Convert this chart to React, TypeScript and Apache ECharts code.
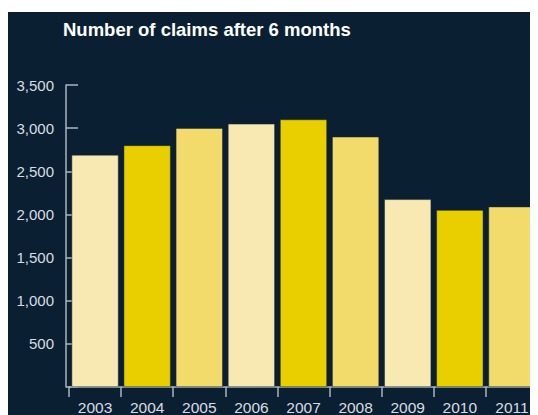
import React, { useEffect, useRef } from "react";
import * as echarts from "echarts";

const years = ["2003", "2004", "2005", "2006", "2007", "2008", "2009", "2010", "2011"];
const claims = [2690, 2800, 3000, 3050, 3100, 2900, 2175, 2050, 2090];
const barColors = ["#f8e9b2", "#e9cf00", "#f2db6b"];
const yTicks = [0, 500, 1000, 1500, 2000, 2500, 3000, 3500];

export default function App() {
  const ref = useRef<HTMLDivElement>(null);
  useEffect(() => {
    if (!ref.current) return;
    const chart = echarts.init(ref.current, null, { renderer: "svg" });
    const font = "'Liberation Sans', Arial, sans-serif";
    chart.setOption({
      animation: false,
      backgroundColor: "#0b1f33",
      color: barColors,
      title: {
        text: "Number of claims after 6 months",
        left: 55,
        top: 8,
        padding: 0,
        textStyle: { color: "#ffffff", fontSize: 18.5, fontWeight: "bold", fontFamily: font },
      },
      grid: { left: 61, top: 73, width: 476, height: 305 },
      xAxis: {
        type: "category",
        data: years,
        axisLine: { show: true, lineStyle: { color: "#aab6c0", width: 1.5 } },
        axisTick: { show: true, length: 10, alignWithLabel: false, lineStyle: { color: "#aab6c0", width: 1.5 } },
        axisLabel: { color: "#d8dde2", fontSize: 15.5, fontFamily: font, margin: 12 },
        splitLine: { show: false },
      },
      yAxis: {
        type: "value",
        min: 0,
        max: yTicks[yTicks.length - 1],
        interval: 500,
        offset: 3,
        axisLine: { show: true, lineStyle: { color: "#aab6c0", width: 1.5 } },
        axisTick: { show: true, inside: true, length: 12, lineStyle: { color: "#aab6c0", width: 1.5 } },
        axisLabel: {
          color: "#d8dde2",
          fontSize: 15,
          fontFamily: font,
          margin: 12,
          formatter: (v: number) => (v === 0 ? "" : v.toLocaleString("en-US")),
        },
        splitLine: { show: false },
      },
      series: [
        {
          type: "bar",
          data: claims,
          colorBy: "data",
          barCategoryGap: "10%",
          itemStyle: { borderColor: "#1a2a2a", borderWidth: 0.5 },
        },
      ],
    });
    return () => chart.dispose();
  }, []);
  return <div ref={ref} style={{ width: 530, height: 403, marginTop: 4 }} />;
}
